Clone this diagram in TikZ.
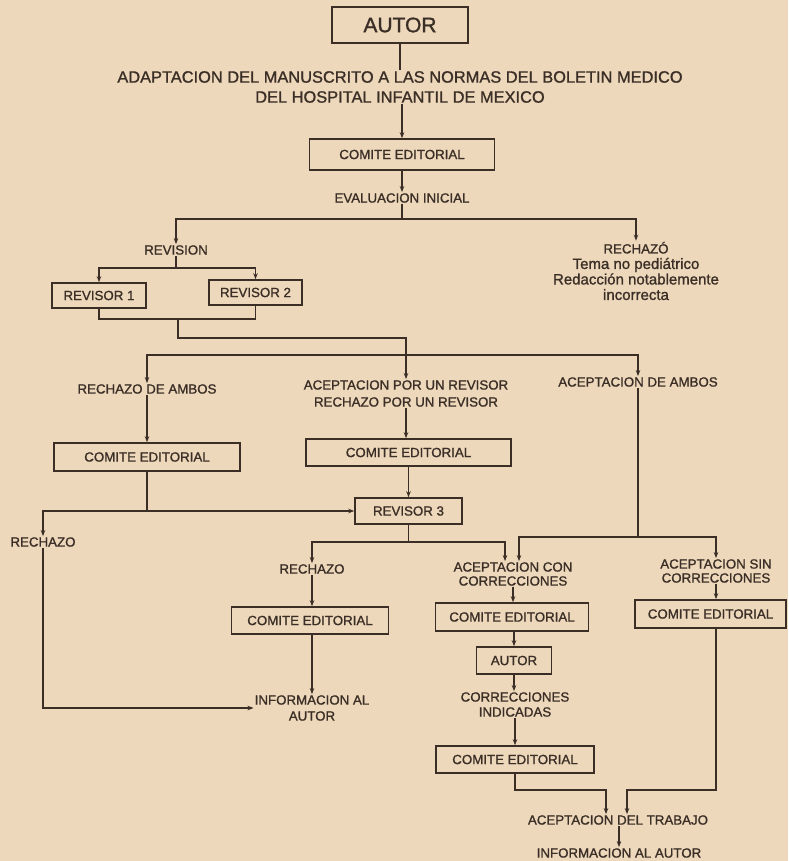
\documentclass[tikz,border=0pt]{standalone}
\usepackage{fontspec}
\setmainfont{Liberation Sans}[FakeBold=1.2]
\usetikzlibrary{arrows.meta,calc}
\definecolor{paper}{RGB}{237,216,187}
\definecolor{ink}{RGB}{58,46,38}
\begin{document}
\begin{tikzpicture}[x=1pt,y=-1pt]
\tikzset{
  box/.style={draw=ink, line width=1.6pt, inner sep=0pt, text=ink, font=\fontsize{13.3}{15}\selectfont},
  lbl/.style={inner sep=1pt, text=ink, align=center, font=\fontsize{13.3}{15}\selectfont},
  conn/.style={draw=ink, line width=1.6pt},
  arr/.style={conn, -{Stealth[length=6pt,width=4.5pt]}},
}
\fill[paper] (0,0) rectangle (788,861);
\useasboundingbox (0,0) rectangle (788,861);

% ---------- nodes ----------
\node[box, minimum width=136pt, minimum height=36pt, font=\fontsize{21}{24}\selectfont] (autorA) at (400,25) {AUTOR};
\node[lbl, font=\fontsize{16.4}{20}\selectfont] (adapt) at (400,87) {ADAPTACION DEL MANUSCRITO A LAS NORMAS DEL BOLETIN MEDICO\\DEL HOSPITAL INFANTIL DE MEXICO};
\node[box, minimum width=185pt, minimum height=31pt] (ce1) at (402,154.5) {COMITE EDITORIAL};
\node[lbl] (eval) at (402,198) {EVALUACION INICIAL};
\coordinate (jEval) at (402,219);
\node[lbl] (revision) at (176,250) {REVISION};
\node[lbl, font=\fontsize{13.3}{15.5}\selectfont] (rech1) at (636,271) {RECHAZÓ\\{\fontsize{15}{15.5}\selectfont Tema no pediátrico}\\{\fontsize{15}{15.5}\selectfont Redacción notablemente}\\{\fontsize{15}{15.5}\selectfont incorrecta}};
\node[box, minimum width=94pt, minimum height=25pt] (rev1) at (99,295.5) {REVISOR 1};
\node[box, minimum width=93pt, minimum height=25pt] (rev2) at (255.5,292.5) {REVISOR 2};
\coordinate (jRev) at (176,268);
\coordinate (jRevB) at (178,319);
\coordinate (jMid) at (406,338);
\coordinate (jMain) at (406,355);
\node[lbl] (rAmbos) at (147,389) {RECHAZO DE AMBOS};
\node[lbl, font=\fontsize{13.3}{17}\selectfont] (aUno) at (406,393.5) {ACEPTACION POR UN REVISOR\\RECHAZO POR UN REVISOR};
\node[lbl] (aAmbos) at (638,382) {ACEPTACION DE AMBOS};
\node[box, minimum width=186pt, minimum height=28pt] (ce2) at (147,457) {COMITE EDITORIAL};
\node[box, minimum width=205pt, minimum height=27pt] (ce3) at (408.5,452.5) {COMITE EDITORIAL};
\node[box, minimum width=107pt, minimum height=26pt] (rev3) at (408.5,511) {REVISOR 3};
\node[lbl] (rechL) at (43,542) {RECHAZO};
\node[lbl] (rechM) at (312,569) {RECHAZO};
\node[box, minimum width=157pt, minimum height=27pt] (ce4) at (310,620.5) {COMITE EDITORIAL};
\node[lbl, font=\fontsize{13.3}{16}\selectfont] (info1) at (312,708) {INFORMACION AL\\AUTOR};
\coordinate (jR3) at (408.5,542);
\coordinate (jA) at (638,537);
\node[lbl, font=\fontsize{13.3}{14}\selectfont] (aCon) at (513,574) {ACEPTACION CON\\CORRECCIONES};
\node[lbl, font=\fontsize{13.3}{14}\selectfont] (aSin) at (716,571) {ACEPTACION SIN\\CORRECCIONES};
\node[box, minimum width=153pt, minimum height=28pt] (ce5) at (512,617) {COMITE EDITORIAL};
\node[box, minimum width=75pt, minimum height=27pt] (autorB) at (514,660.5) {AUTOR};
\node[lbl, font=\fontsize{13.3}{15}\selectfont] (corr) at (515,704.5) {CORRECCIONES\\INDICADAS};
\node[box, minimum width=158pt, minimum height=27pt] (ce6) at (515,759.5) {COMITE EDITORIAL};
\node[box, minimum width=151pt, minimum height=28pt] (ce7) at (710.5,614) {COMITE EDITORIAL};
\coordinate (kL) at (606,790);
\coordinate (kR) at (627,790);
\node[lbl] (aTrab) at (618,820) {ACEPTACION DEL TRABAJO};
\node[lbl] (info2) at (619,853) {INFORMACION AL AUTOR};

% ---------- connectors ----------
\draw[conn] (autorA.south) -- (autorA.south |- adapt.north);
\draw[arr] (adapt.south -| ce1.north) -- (ce1.north);
\draw[arr] (ce1.south) -- (ce1.south |- eval.north);
\draw[conn] (eval.south) -- (jEval);
\draw[arr] (jEval) -| (revision.north);
\draw[arr] (jEval) -| (rech1.north);
\draw[conn] (revision.south) -- (jRev);
\draw[arr] (jRev) -| (rev1.north);
\draw[arr] (jRev) -| (rev2.north);
\draw[conn] (rev1.south) |- (rev2.south |- jRevB) -- (rev2.south);
\draw[conn] (jRevB) |- (jMid) -- (jMain);
\draw[arr] (jMain) -| (rAmbos.north);
\draw[arr] (jMain) -- (aUno.north);
\draw[arr] (jMain) -| (aAmbos.north);
\draw[arr] (rAmbos.south) -- (ce2.north);
\draw[arr] (aUno.south) -- (aUno.south |- ce3.north);
\draw[arr] (ce3.south -| rev3.north) -- (rev3.north);
\draw[arr] (ce2.south) |- (rev3.west);
\draw[arr] (ce2.south |- rev3.west) -| (rechL.north);
\draw[arr] (rechL.south) |- (info1.west);
\draw[conn] (rev3.south) -- (jR3);
\draw[arr] (jR3) -| (rechM.north);
\draw[arr] (jR3) -| ($(aCon.north)+(-8,0)$);
\draw[arr] (rechM.south) -- (rechM.south |- ce4.north);
\draw[arr] (ce4.south -| info1.north) -- (info1.north);
\draw[conn] (aAmbos.south) -- (jA);
\draw[arr] (jA) -| ($(aCon.north)+(6,0)$);
\draw[arr] (jA) -| (aSin.north);
\draw[arr] (aCon.south) -- (aCon.south |- ce5.north);
\draw[arr] (ce5.south -| autorB.north) -- (autorB.north);
\draw[arr] (autorB.south) -- (autorB.south |- corr.north);
\draw[arr] (corr.south -| ce6.north) -- (ce6.north);
\draw[arr] (aSin.south) -- (aSin.south |- ce7.north);
\draw[arr] (ce6.south) |- (kL) -- (kL |- aTrab.north);
\draw[arr] (ce7.south -| aSin.south) |- (kR) -- (kR |- aTrab.north);
\draw[arr] (aTrab.south -| info2.north) -- (info2.north);
\end{tikzpicture}
\end{document}
